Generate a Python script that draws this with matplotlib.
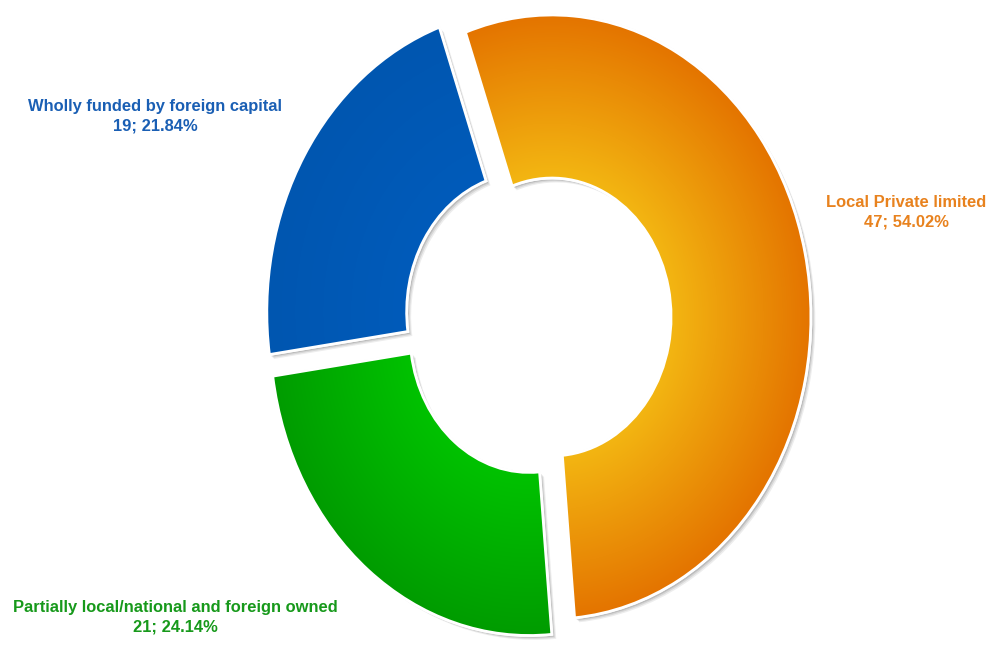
import matplotlib.pyplot as plt
import matplotlib.patheffects as pe
import numpy as np
from matplotlib.colors import LinearSegmentedColormap
from matplotlib.patches import Wedge

categories = ["Local Private limited",
              "Partially local/national and foreign owned",
              "Wholly funded by foreign capital"]
counts = [47, 21, 19]
percents = [54.02, 24.14, 21.84]

wedge_colors = ["#eb9000", "#00b300", "#0058b4"]
# inner / outer colours of the radial fill
gradients = [("#f3b612", "#e47400"), ("#00c200", "#009c00"), ("#005bba", "#0056b0")]
text_colors = ["#e8821e", "#17991b", "#1a5fb4"]
# label block centres in figure pixels
label_pos = [(906, 212), (175, 617), (155, 116)]

W, H = 990, 645
HOLE = 0.46

fig = plt.figure(figsize=(W / 100, H / 100), dpi=100)
ax = fig.add_axes([0, 0, 1, 1])

shadow = [
    pe.SimplePatchShadow(offset=(3.2, -3.2), shadow_rgbFace="k", alpha=0.07),
    pe.SimplePatchShadow(offset=(2.4, -2.4), shadow_rgbFace="k", alpha=0.09),
    pe.SimplePatchShadow(offset=(1.6, -1.6), shadow_rgbFace="k", alpha=0.12),
    pe.SimplePatchShadow(offset=(0.4, 0.8), shadow_rgbFace="k", alpha=0.06),
    pe.Normal(),
]

wedges, _ = ax.pie(counts, startangle=109.5, counterclock=False,
                   explode=[0.055] * 3, colors=wedge_colors,
                   wedgeprops=dict(width=1 - HOLE, edgecolor="white", linewidth=2))

for w, (c_in, c_out) in zip(wedges, gradients):
    w.set_path_effects(shadow)
    w.set_zorder(1)
    cx, cy = w.center
    xs = np.linspace(cx - 1.05, cx + 1.05, 400)
    ys = np.linspace(cy - 1.05, cy + 1.05, 400)
    X, Y = np.meshgrid(xs, ys)
    t = np.clip((np.hypot(X - cx, Y - cy) - HOLE) / (1 - HOLE), 0, 1)
    cmap = LinearSegmentedColormap.from_list("rad", [c_in, c_out])
    im = ax.imshow(t, cmap=cmap, vmin=0, vmax=1, origin="lower", aspect="auto",
                   extent=(xs[0], xs[-1], ys[0], ys[-1]), zorder=2,
                   interpolation="bilinear")
    im.set_clip_path(w)
    rim = Wedge(w.center, w.r, w.theta1, w.theta2, width=w.width,
                facecolor="none", edgecolor="white", linewidth=2, zorder=3)
    ax.add_patch(rim)

ax.set_aspect("auto")
ax.set_xlim(-538 / 259, (W - 538) / 259)
ax.set_ylim((320.5 - H) / 302, 320.5 / 302)
ax.axis("off")

for name, n, p, col, (px, py) in zip(categories, counts, percents, text_colors, label_pos):
    fig.text(px / W, 1 - py / H, f"{name}\n{n}; {p:.2f}%", ha="center", va="center",
             color=col, fontsize=11.9, fontweight="bold", family="Liberation Sans",
             linespacing=1.38)

fig.savefig("out.png", dpi=100, facecolor="white")
